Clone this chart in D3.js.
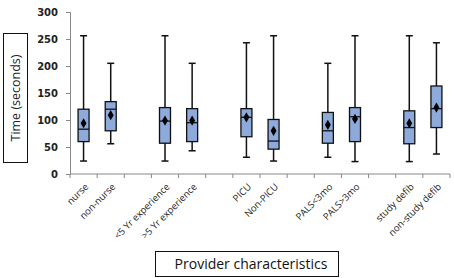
<!DOCTYPE html>
<html>
<head>
<meta charset="utf-8">
<script src="https://cdn.jsdelivr.net/npm/d3@7"></script>
<style>
  body { margin: 0; background: #fff; }
  svg { font-family: "Open Sans", "DejaVu Sans", sans-serif; }
</style>
</head>
<body>
<div id="chart"></div>
<script>
// categories (blank slots are gaps between groups)
var categories = ["nurse", "non-nurse", "", "<5 Yr experience", ">5 Yr experience", "",
                  "PICU", "Non-PICU", "", "PALS<3mo", "PALS>3mo", "", "study defib", "non-study defib"];
var whiskerLow  = [24, 56, null, 24, 43, null, 31, 24, null, 31, 23, null, 23, 37];
var boxLow      = [60, 80, null, 57, 60, null, 69, 46, null, 57, 60, null, 56, 86];
var medians     = [83, 120, null, 98, 95, null, 105, 61, null, 80, 106, null, 86, 121];
var means       = [94, 109, null, 99, 99, null, 105, 80, null, 91, 102, null, 94, 123];
var boxHigh     = [120, 134, null, 123, 121, null, 121, 101, null, 114, 123, null, 117, 163];
var whiskerHigh = [256, 205, null, 256, 205, null, 243, 256, null, 205, 256, null, 256, 243];
var yTicks = [0, 50, 100, 150, 200, 250, 300];

var margin = {top: 12, left: 70},
    width = 380,
    height = 162;

var svg = d3.select("#chart").append("svg")
  .attr("width", 454)
  .attr("height", 278);

var g = svg.append("g")
  .attr("transform", "translate(" + margin.left + "," + margin.top + ")");

var x = d3.scaleBand()
  .domain(d3.range(categories.length))
  .range([0, width]);

var y = d3.scaleLinear()
  .domain([0, 300])
  .range([height, 0]);

// y axis
var yAxis = g.append("g")
  .call(d3.axisLeft(y).tickValues(yTicks).tickSize(4).tickPadding(8));
yAxis.select(".domain").attr("stroke", "#888");
yAxis.selectAll(".tick line").attr("stroke", "#888");
yAxis.selectAll("text")
  .attr("fill", "#222")
  .style("font-size", "10px")
  .style("font-weight", "bold")
  .style("font-family", "'DejaVu Sans', sans-serif");

// x axis: ticks at band edges
var xAxis = g.append("g")
  .attr("transform", "translate(0," + height + ")");
xAxis.append("line")
  .attr("x1", 0).attr("x2", width)
  .attr("stroke", "#888");
xAxis.selectAll(".edge")
  .data(d3.range(categories.length + 1))
  .enter().append("line")
  .attr("x1", function(i) { return i < categories.length ? x(i) : width; })
  .attr("x2", function(i) { return i < categories.length ? x(i) : width; })
  .attr("y1", 0).attr("y2", 4)
  .attr("stroke", "#888");

xAxis.selectAll(".lab")
  .data(categories)
  .enter().append("text")
  .attr("transform", function(d, i) {
    return "translate(" + (x(i) + x.bandwidth() / 2 + 3) + ",11) rotate(-45)";
  })
  .attr("text-anchor", "end")
  .attr("dy", "0.35em")
  .attr("fill", "#222")
  .style("font-size", "9.5px")
  .text(function(d) { return d; });

// boxes
var idx = d3.range(categories.length).filter(function(i) { return boxLow[i] !== null; });
var bw = 11;

var boxes = g.selectAll(".box")
  .data(idx)
  .enter().append("g")
  .attr("transform", function(i) { return "translate(" + (x(i) + x.bandwidth() / 2) + ",0)"; });

boxes.append("line")
  .attr("x1", 0).attr("x2", 0)
  .attr("y1", function(i) { return y(whiskerHigh[i]); })
  .attr("y2", function(i) { return y(whiskerLow[i]); })
  .attr("stroke", "#111").attr("stroke-width", 1.5);

boxes.append("line")
  .attr("x1", -3.5).attr("x2", 3.5)
  .attr("y1", function(i) { return y(whiskerHigh[i]); })
  .attr("y2", function(i) { return y(whiskerHigh[i]); })
  .attr("stroke", "#111").attr("stroke-width", 1.5);

boxes.append("line")
  .attr("x1", -3.5).attr("x2", 3.5)
  .attr("y1", function(i) { return y(whiskerLow[i]); })
  .attr("y2", function(i) { return y(whiskerLow[i]); })
  .attr("stroke", "#111").attr("stroke-width", 1.5);

boxes.append("rect")
  .attr("x", -bw / 2)
  .attr("width", bw)
  .attr("y", function(i) { return y(boxHigh[i]); })
  .attr("height", function(i) { return y(boxLow[i]) - y(boxHigh[i]); })
  .attr("fill", "#8eaadb")
  .attr("stroke", "#111").attr("stroke-width", 1.3);

boxes.append("line")
  .attr("x1", -bw / 2).attr("x2", bw / 2)
  .attr("y1", function(i) { return y(medians[i]); })
  .attr("y2", function(i) { return y(medians[i]); })
  .attr("stroke", "#111").attr("stroke-width", 1.3);

boxes.append("path")
  .attr("d", d3.symbol().type(d3.symbolDiamond).size(30))
  .attr("transform", function(i) { return "translate(0," + y(means[i]) + ")"; })
  .attr("fill", "#000");

// y axis title box
svg.append("rect")
  .attr("x", 3.5).attr("y", 33.5)
  .attr("width", 24).attr("height", 129)
  .attr("fill", "#fff").attr("stroke", "#111");
svg.append("text")
  .attr("transform", "translate(16," + 98 + ") rotate(-90)")
  .attr("text-anchor", "middle")
  .attr("dy", "0.35em")
  .attr("fill", "#222")
  .style("font-size", "12.5px")
  .text("Time (seconds)");

// x axis title box
svg.append("rect")
  .attr("x", 155.5).attr("y", 251.5)
  .attr("width", 183).attr("height", 25)
  .attr("fill", "#fff").attr("stroke", "#111");
svg.append("text")
  .attr("x", 251).attr("y", 264)
  .attr("text-anchor", "middle")
  .attr("dy", "0.35em")
  .attr("fill", "#111")
  .style("font-size", "14px")
  .text("Provider characteristics");
</script>
</body>
</html>
